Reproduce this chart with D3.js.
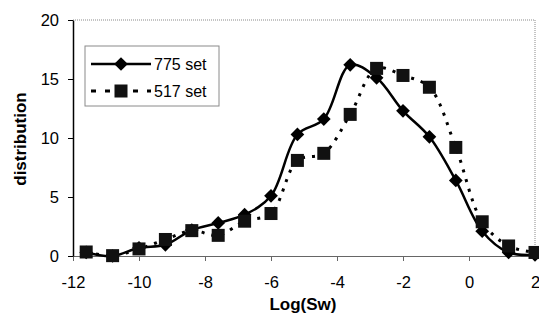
<!DOCTYPE html>
<html>
<head>
<meta charset="utf-8">
<script src="https://cdn.jsdelivr.net/npm/d3@7"></script>
<style>
  body { margin: 0; background: #fff; }
  svg { display: block; font-family: "Liberation Sans", Arial, sans-serif; }
</style>
</head>
<body>
<div id="chart"></div>
<script>
// data
const logSw = [-11.6, -10.8, -10, -9.2, -8.4, -7.6, -6.8, -6, -5.2, -4.4, -3.6, -2.8, -2.0, -1.2, -0.4, 0.4, 1.2, 2.0];
const set775 = [0.3, 0.0, 0.7, 0.95, 2.2, 2.8, 3.5, 5.1, 10.3, 11.6, 16.2, 15.1, 12.3, 10.1, 6.4, 2.1, 0.3, 0.1];
const set517 = [0.34, 0.03, 0.6, 1.4, 2.15, 1.75, 2.95, 3.6, 8.1, 8.7, 12.0, 15.9, 15.3, 14.3, 9.2, 2.9, 0.85, 0.3];
const xTicks = [-12, -10, -8, -6, -4, -2, 0, 2];
const yTicks = [0, 5, 10, 15, 20];
const seriesNames = ['775 set', '517 set'];

const W = 539, H = 324;
const margin = { top: 20, right: 4, bottom: 68, left: 73 };

const svg = d3.select('#chart').append('svg')
  .attr('width', W).attr('height', H);

const x = d3.scaleLinear().domain([-12, 2]).range([margin.left, W - margin.right]);
const y = d3.scaleLinear().domain([0, 20]).range([H - margin.bottom, margin.top]);

// plot frame (top & right, grey)
svg.append('path')
  .attr('d', `M${x(-12)},${y(20)}H${x(2)}V${y(0)}`)
  .attr('fill', 'none')
  .attr('stroke', '#8a8a8a')
  .attr('stroke-width', 1)
  .attr('stroke-dasharray', '1,1');

// x axis (plain hyphen for negatives, as in the original)
const xAxis = svg.append('g')
  .attr('transform', `translate(0,${y(0)})`)
  .call(d3.axisBottom(x).tickValues(xTicks).tickFormat(d => String(d))
    .tickSize(5).tickSizeOuter(0).tickPadding(15));
xAxis.select('.domain').attr('stroke', '#666').attr('stroke-width', 1.2);
xAxis.selectAll('.tick line').attr('stroke', '#666');
xAxis.selectAll('text')
  .attr('fill', '#000')
  .style('font-size', '16.5px')
  .style('font-family', '"Liberation Sans", Arial, sans-serif');

// y axis
const yAxis = svg.append('g')
  .attr('transform', `translate(${x(-12)},0)`)
  .call(d3.axisLeft(y).tickValues(yTicks).tickFormat(d => String(d))
    .tickSize(5).tickSizeOuter(0).tickPadding(9));
yAxis.select('.domain').attr('stroke', '#000').attr('stroke-width', 1.5);
yAxis.selectAll('.tick line').attr('stroke', '#000');
yAxis.selectAll('text')
  .attr('fill', '#000')
  .style('font-size', '16.5px')
  .style('font-family', '"Liberation Sans", Arial, sans-serif');

// axis titles
svg.append('text')
  .attr('x', 303).attr('y', 310)
  .attr('text-anchor', 'middle')
  .style('font-size', '17px').style('font-weight', 'bold')
  .text('Log(Sw)');

svg.append('text')
  .attr('transform', 'translate(26,139) rotate(-90)')
  .attr('text-anchor', 'middle')
  .style('font-size', '17px').style('font-weight', 'bold')
  .text('distribution');

// lines
const d775 = logSw.map((v, i) => [v, set775[i]]);
const d517 = logSw.map((v, i) => [v, set517[i]]);

const line = d3.line()
  .x(d => x(d[0]))
  .y(d => y(d[1]))
  .curve(d3.curveCatmullRom.alpha(0.5));

const diamond = d3.symbol().type(d3.symbolDiamond2).size(120);

svg.append('path')
  .datum(d775)
  .attr('fill', 'none')
  .attr('stroke', '#000')
  .attr('stroke-width', 2.5)
  .attr('d', line);

svg.append('g').selectAll('path')
  .data(d775)
  .join('path')
  .attr('transform', d => `translate(${x(d[0])},${y(d[1])})`)
  .attr('d', diamond)
  .attr('fill', '#000');

svg.append('path')
  .datum(d517)
  .attr('fill', 'none')
  .attr('stroke', '#000')
  .attr('stroke-width', 3)
  .attr('stroke-dasharray', '3,7')
  .attr('d', line);

const sq = 13;
svg.append('g').selectAll('rect')
  .data(d517)
  .join('rect')
  .attr('x', d => x(d[0]) - sq / 2)
  .attr('y', d => y(d[1]) - sq / 2)
  .attr('width', sq).attr('height', sq)
  .attr('fill', '#111');

// legend
const legend = svg.append('g').attr('transform', 'translate(85,46)');
legend.append('rect')
  .attr('width', 134).attr('height', 60)
  .attr('fill', '#fff')
  .attr('stroke', '#8a8a8a')
  .attr('stroke-width', 1);

const rows = [
  { name: seriesNames[0], y: 18, dash: null, w: 2.5 },
  { name: seriesNames[1], y: 45, dash: '5,9', w: 3 }
];
rows.forEach((r, i) => {
  legend.append('line')
    .attr('x1', 6).attr('x2', 66)
    .attr('y1', r.y).attr('y2', r.y)
    .attr('stroke', '#000')
    .attr('stroke-width', r.w)
    .attr('stroke-dasharray', r.dash);
  if (i === 0) {
    legend.append('path')
      .attr('transform', `translate(36,${r.y})`)
      .attr('d', diamond)
      .attr('fill', '#000');
  } else {
    legend.append('rect')
      .attr('x', 36 - sq / 2).attr('y', r.y - sq / 2)
      .attr('width', sq).attr('height', sq)
      .attr('fill', '#111');
  }
  legend.append('text')
    .attr('x', 69).attr('y', r.y + 6)
    .style('font-size', '16px')
    .text(r.name);
});
</script>
</body>
</html>
